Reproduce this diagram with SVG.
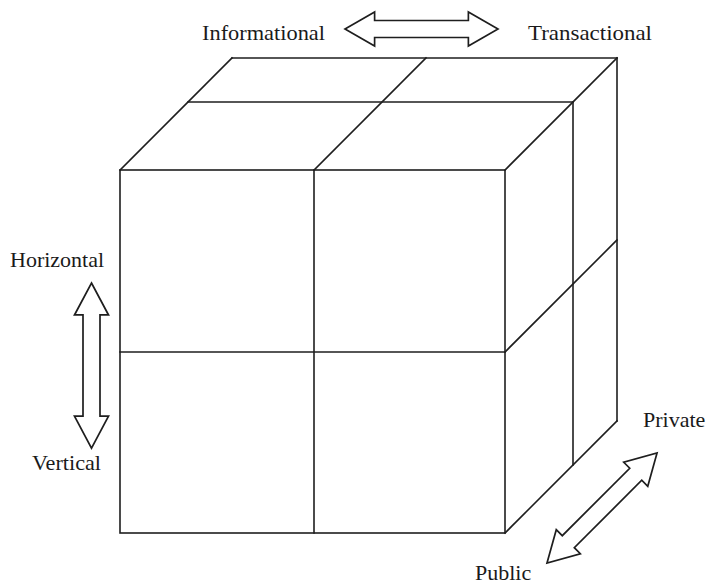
<svg xmlns="http://www.w3.org/2000/svg" width="708" height="586" viewBox="0 0 708 586">
  <style>
    .edge { stroke: #1e1e1e; stroke-width: 1.6; fill: none; stroke-linecap: square; }
    .arrow { stroke: #1e1e1e; stroke-width: 1.7; fill: #ffffff; stroke-linejoin: miter; }
    .label { font-family: "Liberation Serif", "Times New Roman", serif; font-size: 22px; fill: #1a1a1a; }
  </style>
  <defs>
    <!-- double-headed block arrow along +x, 155 long -->
    <polygon id="dbl" points="0,0 30,-17 30,-8.5 125,-8.5 125,-17 155,0 125,17 125,8.5 30,8.5 30,17"/>
  </defs>
  <rect width="708" height="586" fill="#ffffff"/>

  <!-- cube: 2 x 2 x 2 split -->
  <g id="cube">
    <g id="front-face">
      <rect class="edge" x="120" y="170" width="385" height="363"/>
      <line class="edge" x1="314" y1="170" x2="314" y2="533"/>
      <line class="edge" x1="120" y1="352" x2="505" y2="352"/>
    </g>
    <g id="top-face">
      <line class="edge" x1="232" y1="58" x2="617" y2="58"/>
      <line class="edge" x1="188" y1="102" x2="573" y2="102"/>
      <line class="edge" x1="120" y1="170" x2="232" y2="58"/>
      <line class="edge" x1="314" y1="170" x2="426" y2="58"/>
      <line class="edge" x1="505" y1="170" x2="617" y2="58"/>
    </g>
    <g id="side-face">
      <line class="edge" x1="617" y1="58" x2="617" y2="421"/>
      <line class="edge" x1="573" y1="102" x2="573" y2="465"/>
      <line class="edge" x1="505" y1="352" x2="617" y2="240"/>
      <line class="edge" x1="505" y1="533" x2="617" y2="421"/>
    </g>
  </g>

  <!-- axis arrows -->
  <g id="connectors">
    <use id="axis-info-trans" class="arrow" href="#dbl" transform="translate(345,29) scale(0.987,1)"/>
    <use id="axis-horiz-vert" class="arrow" href="#dbl" transform="translate(91.5,283) rotate(90) scale(1.065,1)"/>
    <use id="axis-public-private" class="arrow" href="#dbl" transform="translate(547,563) rotate(-45) scale(1.004,1)"/>
  </g>

  <!-- axis labels -->
  <g id="label-informational"><text class="label" x="202" y="40" textLength="123" lengthAdjust="spacingAndGlyphs">Informational</text></g>
  <g id="label-transactional"><text class="label" x="528" y="40" textLength="124" lengthAdjust="spacingAndGlyphs">Transactional</text></g>
  <g id="label-horizontal"><text class="label" x="10" y="267">Horizontal</text></g>
  <g id="label-vertical"><text class="label" x="32" y="470" textLength="69" lengthAdjust="spacingAndGlyphs">Vertical</text></g>
  <g id="label-private"><text class="label" x="643" y="427">Private</text></g>
  <g id="label-public"><text class="label" x="475" y="580">Public</text></g>
</svg>
